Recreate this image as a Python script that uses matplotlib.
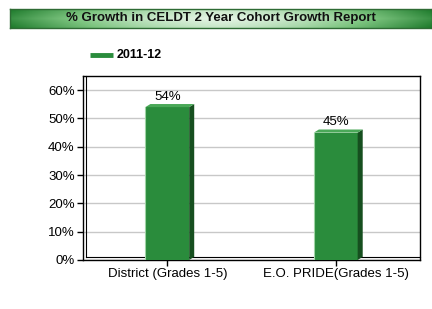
import matplotlib.pyplot as plt
import numpy as np
from matplotlib.patches import Polygon
from matplotlib.colors import LinearSegmentedColormap

categories = ['District (Grades 1-5)', 'E.O. PRIDE(Grades 1-5)']
values = [54, 45]
series_name = '2011-12'
title = '% Growth in CELDT 2 Year Cohort Growth Report'
yticks = [0, 10, 20, 30, 40, 50, 60]

plt.rcParams['font.family'] = ['Liberation Sans', 'DejaVu Sans']

fig = plt.figure(figsize=(4.32, 3.09), dpi=100)
fig.patch.set_facecolor('white')

# title banner with green gradient
bax = fig.add_axes([10 / 432, 1 - 28 / 309, 1 - 10 / 432, 19 / 309])
xs = np.linspace(-1, 1, 400)
ys = np.linspace(-1, 1, 40)
X, Y = np.meshgrid(xs, ys)
grad = (1 - np.abs(X) ** 1.6) * 0.85 + 0.15 * (1 - np.abs(Y))
cmap = LinearSegmentedColormap.from_list('g', ['#1d7a2b', '#7cc47f', '#e4f4e4'])
bax.imshow(grad, cmap=cmap, aspect='auto', extent=[0, 1, 0, 1])
bax.set_xlim(0, 1)
bax.set_ylim(0, 1)
bax.set_xticks([])
bax.set_yticks([])
for s in bax.spines.values():
    s.set_color('#2e6b34')
    s.set_linewidth(1)
bax.text(0.5, 0.5, title, ha='center', va='center', fontsize=9.5,
         fontweight='bold', color='#111111')

# legend
fig.add_artist(plt.Line2D([90 / 432, 113 / 432], [1 - 55 / 309] * 2,
                          color='#2a8c3c', lw=3.5, solid_capstyle='butt'))
fig.text(117 / 432, 1 - 55 / 309, series_name, fontsize=9,
         fontweight='bold', va='center', ha='left')

# main axes
ax = fig.add_axes([83 / 432, 1 - 260 / 309, (420 - 83) / 432, (260 - 76) / 309])
x = np.arange(len(categories))
width = 0.26
ax.set_xlim(-0.5, len(categories) - 0.5)
ax.set_ylim(0, 65)
ax.set_yticks(yticks)
ax.set_yticklabels([f'{t}%' for t in yticks], fontsize=9.5)
ax.set_xticks(x)
ax.set_xticklabels(categories, fontsize=9.5)
ax.yaxis.grid(True, color='#c8c8c8', lw=1)
ax.set_axisbelow(True)
ax.tick_params(axis='both', length=4, width=1, color='black', pad=2)
for s in ax.spines.values():
    s.set_color('black')
    s.set_linewidth(1)

# 3d depth of the wall and floor
dx = 0.018
dy = 1.0
ax.plot([-0.5 + dx, -0.5 + dx], [dy, 65], color='black', lw=0.8, clip_on=False)
ax.plot([-0.5 + dx, len(categories) - 0.5], [dy, dy], color='black', lw=0.8, clip_on=False)

bars = ax.bar(x, values, width=width, color='#2a8c3c', edgecolor='none', zorder=3)
bdx = 0.03
bdy = 1.1
for b, v in zip(bars, values):
    x0 = b.get_x()
    x1 = x0 + b.get_width()
    side = Polygon([(x1, 0), (x1 + bdx, bdy), (x1 + bdx, v + bdy), (x1, v)],
                   closed=True, facecolor='#164f1f', edgecolor='none', zorder=3)
    top = Polygon([(x0, v), (x0 + bdx, v + bdy), (x1 + bdx, v + bdy), (x1, v)],
                  closed=True, facecolor='#4aa858', edgecolor='none', zorder=3)
    ax.add_patch(side)
    ax.add_patch(top)
    ax.plot([x0, x0], [0, v], color='#9fd4a5', lw=0.8, zorder=4)
    ax.text(b.get_x() + b.get_width() / 2, v + bdy + 0.4, f'{v}%',
            ha='center', va='bottom', fontsize=9.5)

fig.savefig('out.png', dpi=100)
